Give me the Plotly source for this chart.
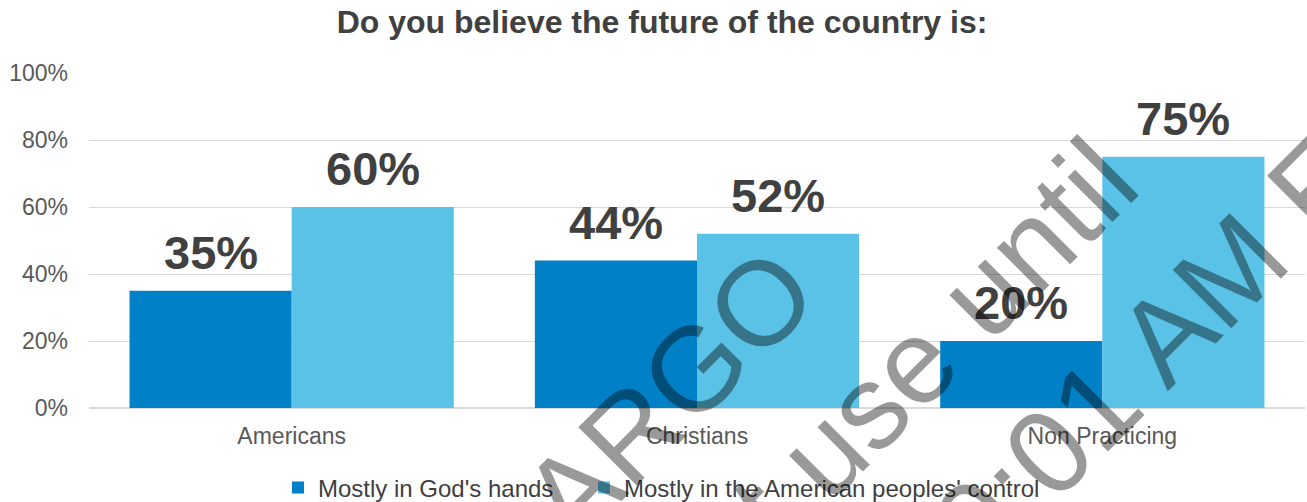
import plotly.graph_objects as go

categories = ["Americans", "Christians", "Non Practicing"]
series_names = ["Mostly in God's hands", "Mostly in the American peoples' control"]
gods_hands = [0.35, 0.44, 0.20]
peoples_control = [0.60, 0.52, 0.75]
y_ticks = [0, 0.2, 0.4, 0.6, 0.8, 1.0]
title_text = "Do you believe the future of the country is:"
watermark_lines = ["EMBARGO", "Do not use until", "10:01 AM ET"]

colors = ["#0080C6", "#5BC2E7"]
FONT = "Liberation Sans, Arial, sans-serif"
W, H = 1307, 502
L, R, T, B = 89, 2, 73, 94
bargap = 0.2

fig = go.Figure()
for k, (name, vals, col) in enumerate(zip(series_names, [gods_hands, peoples_control], colors)):
    fig.add_trace(go.Bar(x=categories, y=vals, name=name,
                         marker=dict(color=col, line=dict(width=0)),
                         legend="legend" if k == 0 else "legend2"))

# data labels above each bar
bw = (1 - bargap) / 2
annotations = []
for s, vals in enumerate([gods_hands, peoples_control]):
    off = -bw / 2 if s == 0 else bw / 2
    for i, v in enumerate(vals):
        annotations.append(dict(
            x=i + off, y=v, xref="x", yref="y", text=f"{round(v*100)}%",
            showarrow=False, yanchor="bottom", xanchor="center", yshift=10,
            font=dict(family=FONT, size=47, color="#404040", weight="bold")))

# watermark
pw, ph = W - L - R, H - T - B
def px2paper(px, py):
    return (px - L) / pw, (H - B - py) / ph
wm_pos = [(576, 487), (820, 455), (1152, 348)]
for txt, (px, py) in zip(watermark_lines, wm_pos):
    xp, yp = px2paper(px, py)
    annotations.append(dict(
        x=xp, y=yp, xref="paper", yref="paper", text=txt, showarrow=False,
        textangle=-45, xanchor="center", yanchor="middle",
        font=dict(family=FONT, size=120, color="rgba(0,0,0,0.4)")))

legend_style = dict(orientation="h", xanchor="left", xref="container",
                    y=1 - 488 / H, yanchor="middle", yref="container",
                    font=dict(family=FONT, size=24, color="#404040"),
                    itemwidth=30, bgcolor="rgba(0,0,0,0)")

fig.update_layout(
    width=W, height=H,
    margin=dict(l=L, r=R, t=T, b=B),
    paper_bgcolor="white", plot_bgcolor="white",
    barmode="group", bargap=bargap, bargroupgap=0,
    title=dict(text=title_text, x=662 / W, xanchor="center", xref="container",
               y=1 - 22 / H, yanchor="middle", yref="container",
               font=dict(family=FONT, size=32, color="#404040", weight="bold")),
    legend=dict(x=278 / W, **legend_style),
    legend2=dict(x=584 / W, **legend_style),
    annotations=annotations,
    showlegend=True,
)
fig.update_xaxes(showgrid=False, showline=False, ticks="",
                 tickfont=dict(family=FONT, size=23, color="#595959"),
                 ticklabelstandoff=12)
fig.update_yaxes(range=[0, 1], tickvals=y_ticks, tickformat=".0%",
                 showgrid=True, gridcolor="#D9D9D9", gridwidth=1,
                 zeroline=True, zerolinecolor="#D9D9D9", zerolinewidth=1.5,
                 showline=False, ticks="",
                 tickfont=dict(family=FONT, size=23, color="#595959"),
                 ticklabelstandoff=20)

fig.write_html("out.html")
